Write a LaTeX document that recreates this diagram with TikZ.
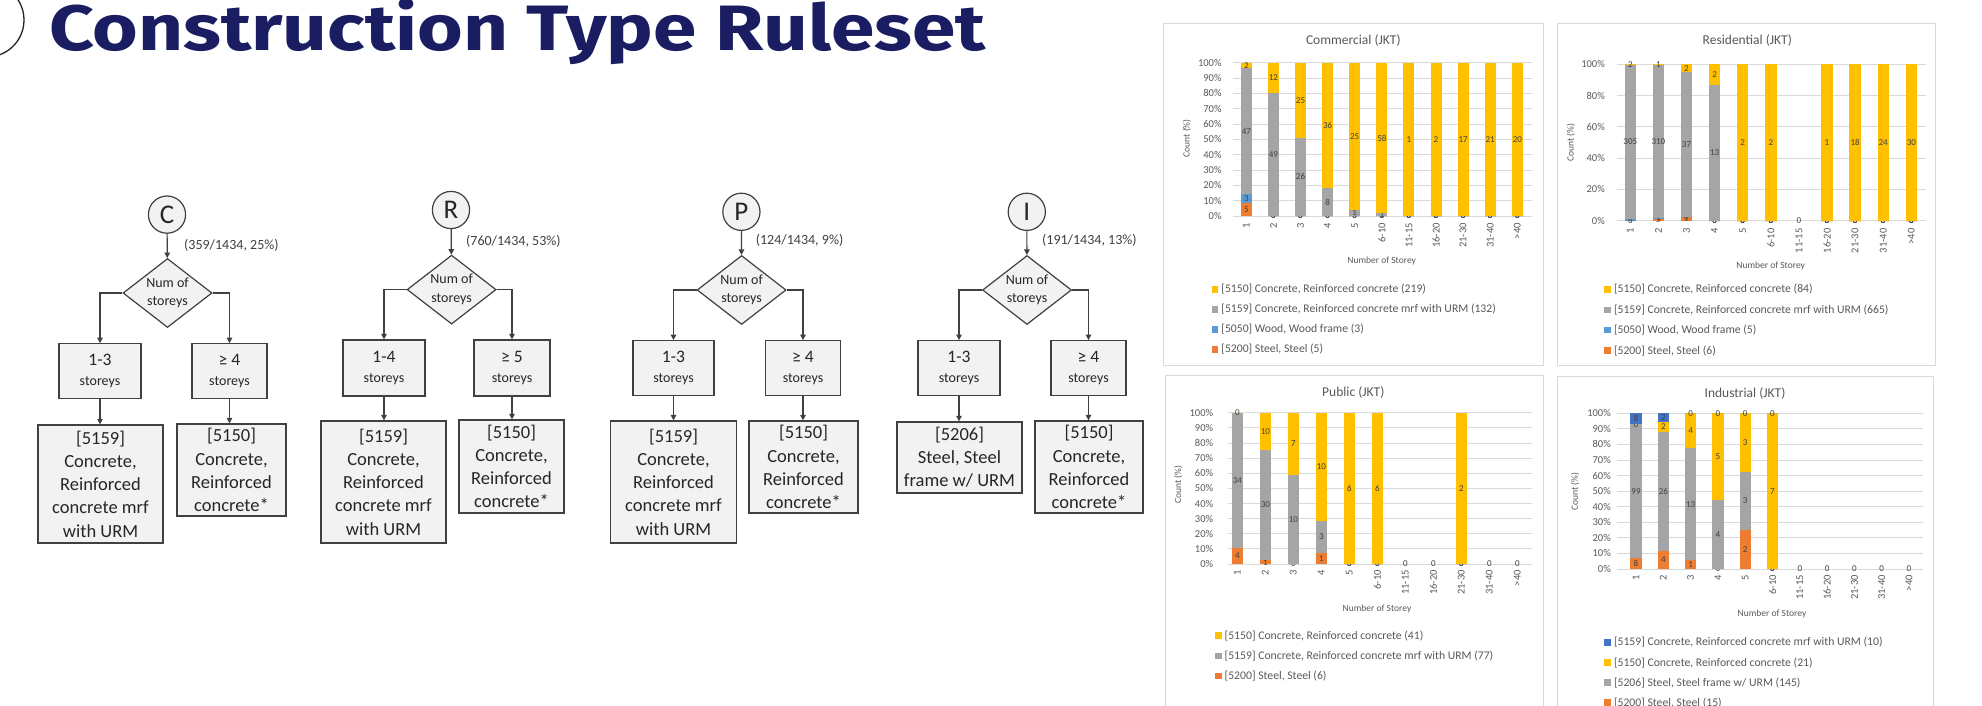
\documentclass[tikz,border=0pt]{standalone}
\usepackage{fontspec}
\setmainfont{Carlito}
\newfontfamily\titlefont{Fira Sans}
\usetikzlibrary{shapes.geometric,arrows.meta}
\definecolor{navy}{RGB}{27,29,99}
\definecolor{cY}{HTML}{FFC000}
\definecolor{cG}{HTML}{A5A5A5}
\definecolor{cO}{HTML}{ED7D31}
\definecolor{cB}{HTML}{5B9BD5}
\definecolor{cD}{HTML}{4472C4}
\definecolor{boxfill}{HTML}{F2F2F2}
\definecolor{edge}{HTML}{404040}
\definecolor{gridc}{HTML}{D9D9D9}
\definecolor{txt}{HTML}{262626}
\definecolor{ctxt}{HTML}{595959}
\definecolor{ltxt}{HTML}{404040}

\newcommand\stackbar[6]{%
  \gdef\cumv{0}%
  \foreach \val/\col in {#6}{%
    \pgfmathsetmacro\cp{\cumv/#5}%
    \pgfmathsetmacro\cn{(\cumv+\val)/#5}%
    \pgfmathsetmacro\cnew{\cumv+\val}%
    \xdef\cumv{\cnew}%
    \fill[\col] ({#1-#4},{#2-#3*\cp}) rectangle ({#1+#4},{#2-#3*\cn});
    \node[lbl] at ({#1},{#2-#3*(\cp+\cn)/2}) {\val};
  }%
}
\newcommand\cbar[3]{\stackbar{\bx+#1*\bdx}{\by}{\bh}{\bw}{#2}{#3}}
\newcommand\zbar[1]{\node[lbl] at ({\bx+#1*\bdx},\by) {0};}
\newcommand\chartgrid[6]{%
  \foreach \k in {0,...,#5}{%
    \pgfmathsetmacro\yy{#3-(#3-#4)*\k/#5}%
    \pgfmathtruncatemacro\pc{100*\k/#5}%
    \draw[gridc, line width=0.8bp] (#1,\yy) -- (#2,\yy);
    \node[tick, anchor=east] at (#6,\yy) {\pc\%};
  }%
}
\newcommand\xlabels[3]{%
  \foreach \lab [count=\i from 0] in {1,2,3,4,5,6-10,11-15,16-20,21-30,31-40,>40}{%
    \node[tick, rotate=90, anchor=east] at ({#1+\i*#2},#3) {\lab};
  }%
}
\newcommand\legitem[4]{%
  \fill[#3] (#1,#2-3.3) rectangle (#1+6.7,#2+3.3);
  \node[leg, anchor=west] at (#1+9.5,#2) {#4};
}

\begin{document}
\begin{tikzpicture}[x=1bp,y=-1bp,
  flow/.style={draw=edge, line width=1.2bp, -{Triangle[length=5.5bp,width=5.5bp]}},
  circ/.style={circle, draw=edge, fill=boxfill, line width=1.2bp, minimum size=37.2bp, inner sep=0pt, text=txt, font=\fontsize{27bp}{27bp}\selectfont},
  dia/.style={diamond, draw=edge, fill=boxfill, line width=1.2bp, minimum width=89bp, minimum height=69bp, inner sep=0pt, aspect=1.29, align=center, text=txt, font=\fontsize{14bp}{18.6bp}\selectfont},
  sbox/.style={rectangle, draw=edge, fill=boxfill, line width=1.2bp, minimum height=55bp, inner sep=0pt, align=center, text=txt, font=\fontsize{14bp}{20bp}\selectfont},
  rbox/.style={rectangle, draw=edge, fill=boxfill, line width=1.2bp, inner sep=0pt, align=center, text=txt, font=\fontsize{18.5bp}{23.2bp}\selectfont},
  plabel/.style={anchor=west, inner sep=0pt, text=ltxt, font=\fontsize{14bp}{16bp}\selectfont},
  lbl/.style={inner sep=0pt, text=ltxt, font=\fontsize{9bp}{10bp}\selectfont},
  tick/.style={inner sep=0pt, text=ctxt, font=\fontsize{10.5bp}{12bp}\selectfont},
  leg/.style={inner sep=0pt, text=ctxt, font=\fontsize{11.7bp}{13bp}\selectfont},
  ctitle/.style={inner sep=0pt, text=ctxt, font=\fontsize{13.5bp}{15bp}\selectfont},
  atitle/.style={inner sep=0pt, text=ctxt, font=\fontsize{9.5bp}{11bp}\selectfont},
  panel/.style={draw=gridc, line width=1bp, fill=white}
]
\useasboundingbox (0,0) rectangle (1982,706);
\fill[white] (0,0) rectangle (1982,706);

% ---------- title ----------
\draw[line width=1.3bp, black!85] (-13,20) circle (37);
\node[inner sep=0pt, text=navy, font=\titlefont\bfseries\fontsize{44bp}{44bp}\selectfont] (num) at (-16,24) {1};
\node[anchor=base west, inner sep=0pt, text=navy] (title) at (49,50.7)
  {\resizebox{936bp}{52bp}{\titlefont\bfseries Construction Type Ruleset}};

% ---------- flowchart C ----------
\node[circ] (cC) at (167,214.6) {C};
\node[plabel] (lC) at (184,245) {(359/1434, 25\%)};
\node[dia] (dC) at (167.5,293) {Num of\\storeys};
\node[sbox, minimum width=82bp] (bC1) at (100,371.3) {{\fontsize{17.5bp}{20bp}\selectfont 1-3}\\storeys};
\node[sbox, minimum width=75bp] (bC2) at (229.5,371.3) {{\fontsize{17.5bp}{20bp}\selectfont ≥ 4}\\storeys};
\node[rbox, minimum width=125bp, minimum height=118bp] (rC1) at (100.5,484) {[5159]\\Concrete,\\Reinforced\\concrete mrf\\with URM};
\node[rbox, minimum width=109bp, minimum height=92bp] (rC2) at (231.5,470) {[5150]\\Concrete,\\Reinforced\\concrete*};
\draw[flow] (cC) -- (dC);
\draw[flow] (dC.west) -| (bC1.north);
\draw[flow] (dC.east) -| (bC2.north);
\draw[flow] (bC1.south) -- (bC1.south |- rC1.north);
\draw[flow] (bC2.south) -- (bC2.south |- rC2.north);

% ---------- flowchart R ----------
\node[circ] (cR) at (451,210) {R};
\node[plabel] (lR) at (466,241) {(760/1434, 53\%)};
\node[dia] (dR) at (451.6,289.6) {Num of\\storeys};
\node[sbox, minimum width=82bp, minimum height=56bp] (bR1) at (384,368) {{\fontsize{17.5bp}{20bp}\selectfont 1-4}\\storeys};
\node[sbox, minimum width=76bp, minimum height=56bp] (bR2) at (512,368) {{\fontsize{17.5bp}{20bp}\selectfont ≥ 5}\\storeys};
\node[rbox, minimum width=125bp, minimum height=122bp] (rR1) at (383.5,482) {[5159]\\Concrete,\\Reinforced\\concrete mrf\\with URM};
\node[rbox, minimum width=105bp, minimum height=93bp] (rR2) at (511.5,466.5) {[5150]\\Concrete,\\Reinforced\\concrete*};
\draw[flow] (cR) -- (dR);
\draw[flow] (dR.west) -| (bR1.north);
\draw[flow] (dR.east) -| (bR2.north);
\draw[flow] (bR1.south) -- (bR1.south |- rR1.north);
\draw[flow] (bR2.south) -- (bR2.south |- rR2.north);

% ---------- flowchart P ----------
\node[circ] (cP) at (741.4,211.8) {P};
\node[plabel] (lP) at (755.7,240) {(124/1434, 9\%)};
\node[dia] (dP) at (741.6,290) {Num of\\storeys};
\node[sbox, minimum width=81bp] (bP1) at (673.5,368.2) {{\fontsize{17.5bp}{20bp}\selectfont 1-3}\\storeys};
\node[sbox, minimum width=75bp] (bP2) at (803,368.2) {{\fontsize{17.5bp}{20bp}\selectfont ≥ 4}\\storeys};
\node[rbox, minimum width=125.7bp, minimum height=122bp] (rP1) at (673.5,482) {[5159]\\Concrete,\\Reinforced\\concrete mrf\\with URM};
\node[rbox, minimum width=109bp, minimum height=92bp] (rP2) at (803.5,467) {[5150]\\Concrete,\\Reinforced\\concrete*};
\draw[flow] (cP) -- (dP);
\draw[flow] (dP.west) -| (bP1.north);
\draw[flow] (dP.east) -| (bP2.north);
\draw[flow] (bP1.south) -- (bP1.south |- rP1.north);
\draw[flow] (bP2.south) -- (bP2.south |- rP2.north);

% ---------- flowchart I ----------
\node[circ] (cI) at (1026.8,211.8) {I};
\node[plabel] (lI) at (1042,240) {(191/1434, 13\%)};
\node[dia] (dI) at (1027,290) {Num of\\storeys};
\node[sbox, minimum width=82bp] (bI1) at (959,368.2) {{\fontsize{17.5bp}{20bp}\selectfont 1-3}\\storeys};
\node[sbox, minimum width=75bp] (bI2) at (1088.5,368.2) {{\fontsize{17.5bp}{20bp}\selectfont ≥ 4}\\storeys};
\node[rbox, minimum width=125bp, minimum height=71bp] (rI1) at (959.5,457.4) {[5206]\\Steel, Steel\\frame w/ URM};
\node[rbox, minimum width=108bp, minimum height=92bp] (rI2) at (1089,467) {[5150]\\Concrete,\\Reinforced\\concrete*};
\draw[flow] (cI) -- (dI);
\draw[flow] (dI.west) -| (bI1.north);
\draw[flow] (dI.east) -| (bI2.north);
\draw[flow] (bI1.south) -- (bI1.south |- rI1.north);
\draw[flow] (bI2.south) -- (bI2.south |- rI2.north);

% ---------- panels ----------
\draw[panel] (1163.3,23.3) rectangle (1543.3,365.7);
\draw[panel] (1557.3,23.3) rectangle (1935,365.7);
\draw[panel] (1165,375) rectangle (1543.3,720);
\draw[panel] (1557.3,376) rectangle (1933.3,720);

% ---------- Commercial ----------
\node[ctitle] (tCom) at (1353.3,40.7) {Commercial (JKT)};
\chartgrid{1232.7}{1531.7}{216}{62.7}{10}{1221.7}
\node[atitle, rotate=90] (yCom) at (1186.7,138.3) {Count (\%)};
\node[atitle] (xCom) at (1381.7,260.7) {Number of Storey};
\xlabels{1246.3}{27.1}{223}
\def\bx{1246.3}\def\bdx{27.1}\def\by{216}\def\bh{153.3}\def\bw{5.5}
\cbar{0}{57}{5/cO,3/cB,47/cG,2/cY}
\cbar{1}{61}{0/cO,0/cB,49/cG,12/cY}
\cbar{2}{51}{0/cO,0/cB,26/cG,25/cY}
\cbar{3}{44}{0/cO,0/cB,8/cG,36/cY}
\cbar{4}{26}{0/cO,0/cB,1/cG,25/cY}
\cbar{5}{59}{0/cO,0/cB,1/cG,58/cY}
\cbar{6}{1}{0/cO,0/cB,0/cG,1/cY}
\cbar{7}{2}{0/cO,0/cB,0/cG,2/cY}
\cbar{8}{17}{0/cO,0/cB,0/cG,17/cY}
\cbar{9}{21}{0/cO,0/cB,0/cG,21/cY}
\cbar{10}{20}{0/cO,0/cB,0/cG,20/cY}
\legitem{1211.7}{289.3}{cY}{[5150] Concrete, Reinforced concrete (219)}
\legitem{1211.7}{309.3}{cG}{[5159] Concrete, Reinforced concrete mrf with URM (132)}
\legitem{1211.7}{329.3}{cB}{[5050] Wood, Wood frame (3)}
\legitem{1211.7}{349.3}{cO}{[5200] Steel, Steel (5)}

% ---------- Residential ----------
\node[ctitle] (tRes) at (1747.3,40.7) {Residential (JKT)};
\chartgrid{1616.7}{1926}{220.7}{64.3}{5}{1605}
\node[atitle, rotate=90] (yRes) at (1570.7,142.7) {Count (\%)};
\node[atitle] (xRes) at (1770.7,266) {Number of Storey};
\xlabels{1630.3}{28.1}{228.3}
\def\bx{1630.3}\def\bdx{28.1}\def\by{220.7}\def\bh{156.4}\def\bw{5.7}
\cbar{0}{311}{0/cO,4/cB,305/cG,2/cY}
\cbar{1}{317}{5/cO,1/cB,310/cG,1/cY}
\cbar{2}{40}{1/cO,0/cB,37/cG,2/cY}
\cbar{3}{15}{0/cO,0/cB,13/cG,2/cY}
\cbar{4}{2}{0/cO,0/cB,0/cG,2/cY}
\cbar{5}{2}{0/cO,0/cB,0/cG,2/cY}
\zbar{6}
\cbar{7}{1}{0/cO,0/cB,0/cG,1/cY}
\cbar{8}{18}{0/cO,0/cB,0/cG,18/cY}
\cbar{9}{24}{0/cO,0/cB,0/cG,24/cY}
\cbar{10}{30}{0/cO,0/cB,0/cG,30/cY}
\legitem{1604.3}{289.3}{cY}{[5150] Concrete, Reinforced concrete (84)}
\legitem{1604.3}{310}{cG}{[5159] Concrete, Reinforced concrete mrf with URM (665)}
\legitem{1604.3}{330}{cB}{[5050] Wood, Wood frame (5)}
\legitem{1604.3}{350.7}{cO}{[5200] Steel, Steel (6)}

% ---------- Public ----------
\node[ctitle] (tPub) at (1353.3,392.7) {Public (JKT)};
\chartgrid{1228.3}{1531.7}{564}{412.7}{10}{1213.3}
\node[atitle, rotate=90] (yPub) at (1178.3,485) {Count (\%)};
\node[atitle] (xPub) at (1377,609.3) {Number of Storey};
\xlabels{1237.3}{28}{570}
\def\bx{1237.3}\def\bdx{28}\def\by{564}\def\bh{151.3}\def\bw{5.4}
\cbar{0}{38}{4/cO,34/cG,0/cY}
\cbar{1}{41}{1/cO,30/cG,10/cY}
\cbar{2}{17}{0/cO,10/cG,7/cY}
\cbar{3}{14}{1/cO,3/cG,10/cY}
\cbar{4}{6}{0/cO,0/cG,6/cY}
\cbar{5}{6}{0/cO,0/cG,6/cY}
\zbar{6}
\zbar{7}
\cbar{8}{2}{0/cO,0/cG,2/cY}
\zbar{9}
\zbar{10}
\legitem{1215}{635.7}{cY}{[5150] Concrete, Reinforced concrete (41)}
\legitem{1215}{656}{cG}{[5159] Concrete, Reinforced concrete mrf with URM (77)}
\legitem{1215}{676}{cO}{[5200] Steel, Steel (6)}

% ---------- Industrial ----------
\node[ctitle] (tInd) at (1745,393.3) {Industrial (JKT)};
\chartgrid{1616.7}{1922.7}{569}{413.3}{10}{1611}
\node[atitle, rotate=90] (yInd) at (1575,491.7) {Count (\%)};
\node[atitle] (xInd) at (1772,614.3) {Number of Storey};
\xlabels{1636}{27.3}{575}
\def\bx{1636}\def\bdx{27.3}\def\by{569}\def\bh{155.7}\def\bw{5.7}
\cbar{0}{115}{8/cO,99/cG,0/cY,8/cD}
\cbar{1}{34}{4/cO,26/cG,2/cY,2/cD}
\cbar{2}{18}{1/cO,13/cG,4/cY,0/cD}
\cbar{3}{9}{0/cO,4/cG,5/cY,0/cD}
\cbar{4}{8}{2/cO,3/cG,3/cY,0/cD}
\cbar{5}{7}{0/cO,0/cG,7/cY,0/cD}
\zbar{6}
\zbar{7}
\zbar{8}
\zbar{9}
\zbar{10}
\legitem{1604.3}{642.3}{cD}{[5159] Concrete, Reinforced concrete mrf with URM (10)}
\legitem{1604.3}{662.7}{cY}{[5150] Concrete, Reinforced concrete (21)}
\legitem{1604.3}{682.7}{cG}{[5206] Steel, Steel frame w/ URM (145)}
\legitem{1604.3}{702.7}{cO}{[5200] Steel, Steel (15)}
\end{tikzpicture}
\end{document}
